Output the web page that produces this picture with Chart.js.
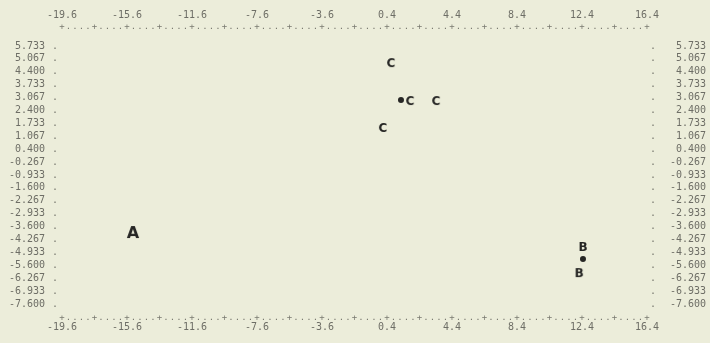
<!DOCTYPE html>
<html lang="en">
<head>
    <meta charset="UTF-8">
    <title>Cluster Plot</title>
    <script src="https://cdn.jsdelivr.net/npm/chart.js"></script>
    <style>
        body { margin: 0; background: #ecedda; }
        canvas { display: block; }
    </style>
</head>
<body>
    <canvas id="clusterChart" width="710" height="343"></canvas>
    <script>
        // axis ticks as printed
        const xTicks = [-19.6, -15.6, -11.6, -7.6, -3.6, 0.4, 4.4, 8.4, 12.4, 16.4];
        const yTicks = [5.733, 5.067, 4.400, 3.733, 3.067, 2.400, 1.733, 1.067, 0.400, -0.267, -0.933,
                        -1.600, -2.267, -2.933, -3.600, -4.267, -4.933, -5.600, -6.267, -6.933, -7.600];

        // cluster members
        const groupA = [{ x: -15.23, y: -3.88 }];
        const groupB = [{ x: 12.46, y: -4.60 }, { x: 12.22, y: -5.95 }];
        const groupC = [{ x: 0.65, y: 4.90 }, { x: 1.82, y: 2.94 }, { x: 3.42, y: 2.94 }, { x: 0.15, y: 1.55 }];
        // cluster centres
        const centres = [{ x: 1.26, y: 2.94 }, { x: 12.46, y: -5.27 }];

        const xMin = -19.6, xMax = 16.4;
        const yMin = -7.6, yMax = 5.733;

        const labelFont = { family: "'DejaVu Sans Mono', monospace", size: 10 };
        const labelColor = '#6e6e66';

        function letterMark(letter, size, box) {
            const c = document.createElement('canvas');
            c.width = box;
            c.height = box;
            const g = c.getContext('2d');
            g.font = "bold " + size + "px 'DejaVu Sans'";
            g.fillStyle = '#262624';
            g.textAlign = 'center';
            g.textBaseline = 'alphabetic';
            const m = g.measureText(letter);
            const h = m.actualBoundingBoxAscent + m.actualBoundingBoxDescent;
            g.fillText(letter, box / 2, box / 2 + h / 2 - m.actualBoundingBoxDescent);
            return c;
        }

        // line-printer frame: "+....+" rows and the dot columns beside the y labels
        const printerFrame = {
            id: 'printerFrame',
            afterDraw(chart) {
                const ctx = chart.ctx;
                const area = chart.chartArea;
                const xs = chart.scales.x;
                const ys = chart.scales.y;
                ctx.save();
                ctx.fillStyle = '#7a7a70';
                ctx.textAlign = 'center';
                ctx.textBaseline = 'middle';
                ctx.font = "9px 'DejaVu Sans Mono'";
                for (let i = 0; i <= 90; i++) {
                    const px = xs.getPixelForValue(xMin + i * 0.4);
                    const ch = i % 5 === 0 ? '+' : '.';
                    ctx.fillText(ch, px, area.top - 19);
                    ctx.fillText(ch, px, area.bottom + 14);
                }
                ctx.font = "10px 'DejaVu Sans Mono'";
                yTicks.forEach(v => {
                    const py = ys.getPixelForValue(v);
                    ctx.fillText('.', area.left - 7, py);
                    ctx.fillText('.', area.right + 6, py);
                });
                ctx.restore();
            }
        };

        function fixedTicks(values) {
            return scale => { scale.ticks = values.map(v => ({ value: v })); };
        }

        const xAxis = (position, padding, height) => ({
            type: 'linear',
            position: position,
            min: xMin,
            max: xMax,
            afterBuildTicks: fixedTicks(xTicks),
            afterFit: scale => { scale.height = height; },
            grid: { display: false, drawTicks: false },
            border: { display: false },
            ticks: {
                font: labelFont,
                color: labelColor,
                padding: padding,
                maxRotation: 0,
                autoSkip: false,
                callback: v => v.toFixed(1)
            }
        });

        const yAxis = (position, width, padding, crossAlign) => ({
            type: 'linear',
            position: position,
            min: yMin,
            max: yMax,
            afterBuildTicks: fixedTicks(yTicks),
            afterFit: scale => { scale.width = width; },
            grid: { display: false, drawTicks: false },
            border: { display: false },
            ticks: {
                font: labelFont,
                color: labelColor,
                padding: padding,
                crossAlign: crossAlign,
                autoSkip: false,
                callback: v => v.toFixed(3)
            }
        });

        new Chart(document.getElementById('clusterChart'), {
            type: 'scatter',
            data: {
                datasets: [
                    { label: 'A', data: groupA, pointStyle: letterMark('A', 16, 20), pointRadius: 10 },
                    { label: 'B', data: groupB, pointStyle: letterMark('B', 12, 14), pointRadius: 7 },
                    { label: 'C', data: groupC, pointStyle: letterMark('C', 12, 14), pointRadius: 7 },
                    {
                        label: 'centre', data: centres, pointStyle: 'circle', pointRadius: 3,
                        backgroundColor: '#262624', borderColor: '#262624', borderWidth: 0
                    }
                ]
            },
            options: {
                responsive: false,
                animation: false,
                devicePixelRatio: 1,
                layout: { padding: { left: 0, right: 4, top: 0, bottom: 0 } },
                plugins: { legend: { display: false }, tooltip: { enabled: false } },
                scales: {
                    x: xAxis('bottom', 17, 39),
                    x2: xAxis('top', 25, 46),
                    y: yAxis('left', 62, 17, 'near'),
                    y2: yAxis('right', 59, 10, 'far')
                }
            },
            plugins: [printerFrame]
        });
    </script>
</body>
</html>
